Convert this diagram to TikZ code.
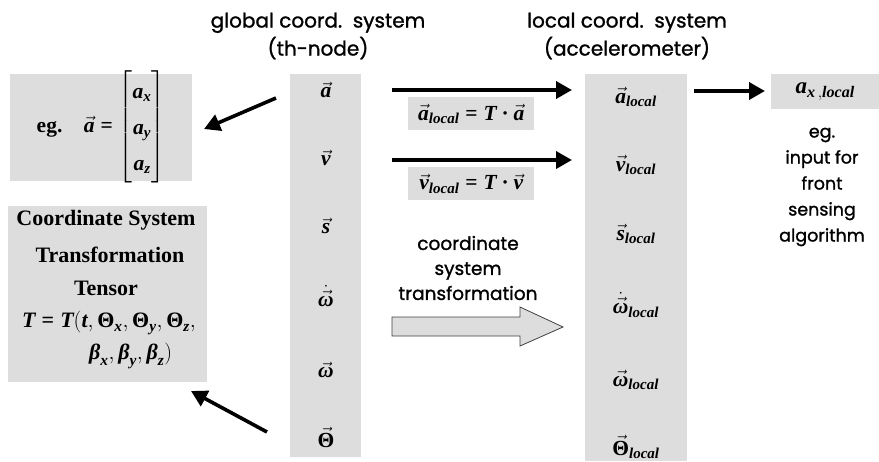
\documentclass[tikz,border=0pt]{standalone}
\usepackage{fix-cm}
\usepackage{amsmath}
\usepackage{fontspec}
\setmainfont{Liberation Serif}
\newfontfamily\labelfont{Poppins}[FakeBold=1.2]
\usetikzlibrary{arrows.meta}

\definecolor{panel}{RGB}{221,221,221}

% bold italic / bold upright symbols set in the text font
\newcommand\vb[1]{\text{\bfseries\itshape #1}}
\newcommand\vu[1]{\text{\bfseries #1}}
\newcommand\vecb[1]{\vec{\vb{#1}}}
\newcommand\vecu[1]{\vec{\vu{#1}}}
\newcommand\eqb{\mathrel{\vu{=}}}
\newcommand\dotb{\mathbin{\vu{·}}}
\newcommand\loc{_{\vb{local}}}

\begin{document}
\begin{tikzpicture}[x=1pt,y=-1pt,
  panelbox/.style={fill=panel, draw=none, inner sep=0pt, anchor=north west},
  sym/.style={font=\fontsize{21.5}{25}\selectfont, inner sep=0pt},
  serifline/.style={font=\bfseries\fontsize{22}{26}\selectfont, inner sep=0pt},
  caption/.style={font=\labelfont\fontsize{20}{28}\selectfont, align=center, inner sep=0pt},
  midcaption/.style={font=\labelfont\fontsize{18.5}{25}\selectfont, align=center, inner sep=0pt},
  note/.style={font=\labelfont\fontsize{17.5}{26}\selectfont, align=center, inner sep=0pt},
  fatarrow/.style={-{Triangle[length=16pt,width=17pt]}, line width=3.6pt},
]
\useasboundingbox (0,0) rectangle (879,461);

% ---------- headers ----------
\node[caption] (hglob) at (318,36) {global coord.\ \ system\\(th-node)};
\node[caption] (hloc)  at (627,36) {local coord.\ \ system\\(accelerometer)};

% ---------- grey panels ----------
\node[panelbox, minimum width=71pt,  minimum height=383pt] (glob)   at (290,74) {};
\node[panelbox, minimum width=102pt, minimum height=387pt] (locl)   at (585,74) {};
\node[panelbox, minimum width=182pt, minimum height=107pt] (egbox)  at (10,74) {};
\node[panelbox, minimum width=199pt, minimum height=176pt] (tensor) at (8,206) {};
\node[panelbox, minimum width=126pt, minimum height=33pt]  (albox)  at (408,97) {};
\node[panelbox, minimum width=126pt, minimum height=33pt]  (vlbox)  at (408,167) {};
\node[panelbox, minimum width=108pt, minimum height=35pt]  (axbox)  at (771,74) {};

% ---------- global quantities ----------
\node[sym] (ga) at (326,90)  {$\vecb{a}$};
\node[sym] (gv) at (326,158) {$\vecb{v}$};
\node[sym] (gs) at (326,226) {$\vecb{s}$};
\node[sym] (gw) at (326,296) {$\dot{\vecb{ω}}$};
\node[sym] (go) at (326,370) {$\vecb{ω}$};
\node[sym] (gt) at (326,437) {$\vecu{Θ}$};

% ---------- local quantities ----------
\node[sym] (la) at (636,97)  {$\vecb{a}\loc$};
\node[sym] (lv) at (636,165) {$\vecb{v}\loc$};
\node[sym] (ls) at (636,234) {$\vecb{s}\loc$};
\node[sym] (lw) at (636,305) {$\dot{\vecb{ω}}\loc$};
\node[sym] (lo) at (636,380) {$\vecb{ω}\loc$};
\node[sym] (lt) at (636,447) {$\vecu{Θ}\loc$};

% ---------- transformation formulas ----------
\node[sym] (fa) at (albox.center) {$\vecb{a}\loc\eqb\vb{T}\dotb\vecb{a}$};
\node[sym] (fv) at (vlbox.center) {$\vecb{v}\loc\eqb\vb{T}\dotb\vecb{v}$};

% ---------- example vector ----------
\node[sym] (egtxt) at (101,127) {\vu{eg.}\quad
  $\vecb{a}\eqb{\renewcommand\arraystretch{1.45}\begin{bmatrix}\vb{a}_{\vb{x}}\\ \vb{a}_{\vb{y}}\\ \vb{a}_{\vb{z}}\end{bmatrix}}$};

% ---------- tensor description ----------
\node[serifline] (t1) at (106,220) {Coordinate System};
\node[serifline] (t2) at (110,255) {Transformation};
\node[serifline] (t3) at (106,288) {Tensor};
\node[sym, font=\fontsize{22}{26}\selectfont] (t4) at (109,323)
  {$\vb{T}\eqb\vb{T}(\vb{t},\vu{Θ}_{\vb{x}},\vu{Θ}_{\vb{y}},\vu{Θ}_{\vb{z}},$};
\node[sym, font=\fontsize{22}{26}\selectfont, anchor=west] (t5) at (89,356)
  {$\vb{β}_{\vb{x}},\vb{β}_{\vb{y}},\vb{β}_{\vb{z}})$};

% ---------- selected component ----------
\node[sym, font=\fontsize{23}{27}\selectfont] (ax) at (axbox.center) {$\vb{a}_{\vb{x}\,,\vb{local}}$};
\node[note] (axnote) at (822,187) {eg.\\input for\\front\\sensing\\algorithm};

% ---------- middle caption and block arrow ----------
\node[midcaption] (ctxt) at (468,268) {coordinate\\system\\transformation};
\draw[draw=black!75, line width=0.8pt, fill=panel]
  (392,317) -- (520,317) -- (520,307) -- (563,327) -- (520,346)
  -- (520,336) -- (392,336) -- cycle;

% ---------- arrows ----------
\coordinate (h1s) at (392,90);   \coordinate (h1e) at (572,90);
\coordinate (h2s) at (392,160);  \coordinate (h2e) at (572,160);
\coordinate (h3s) at (694,91);   \coordinate (h3e) at (765,91);
\coordinate (d1s) at (276,98);   \coordinate (d1e) at (204,129);
\coordinate (d2s) at (267,432);  \coordinate (d2e) at (191,391);
\draw[fatarrow] (h1s) -- (h1e);
\draw[fatarrow] (h2s) -- (h2e);
\draw[fatarrow] (h3s) -- (h3e);
\draw[fatarrow] (d1s) -- (d1e);
\draw[fatarrow] (d2s) -- (d2e);
\end{tikzpicture}
\end{document}
